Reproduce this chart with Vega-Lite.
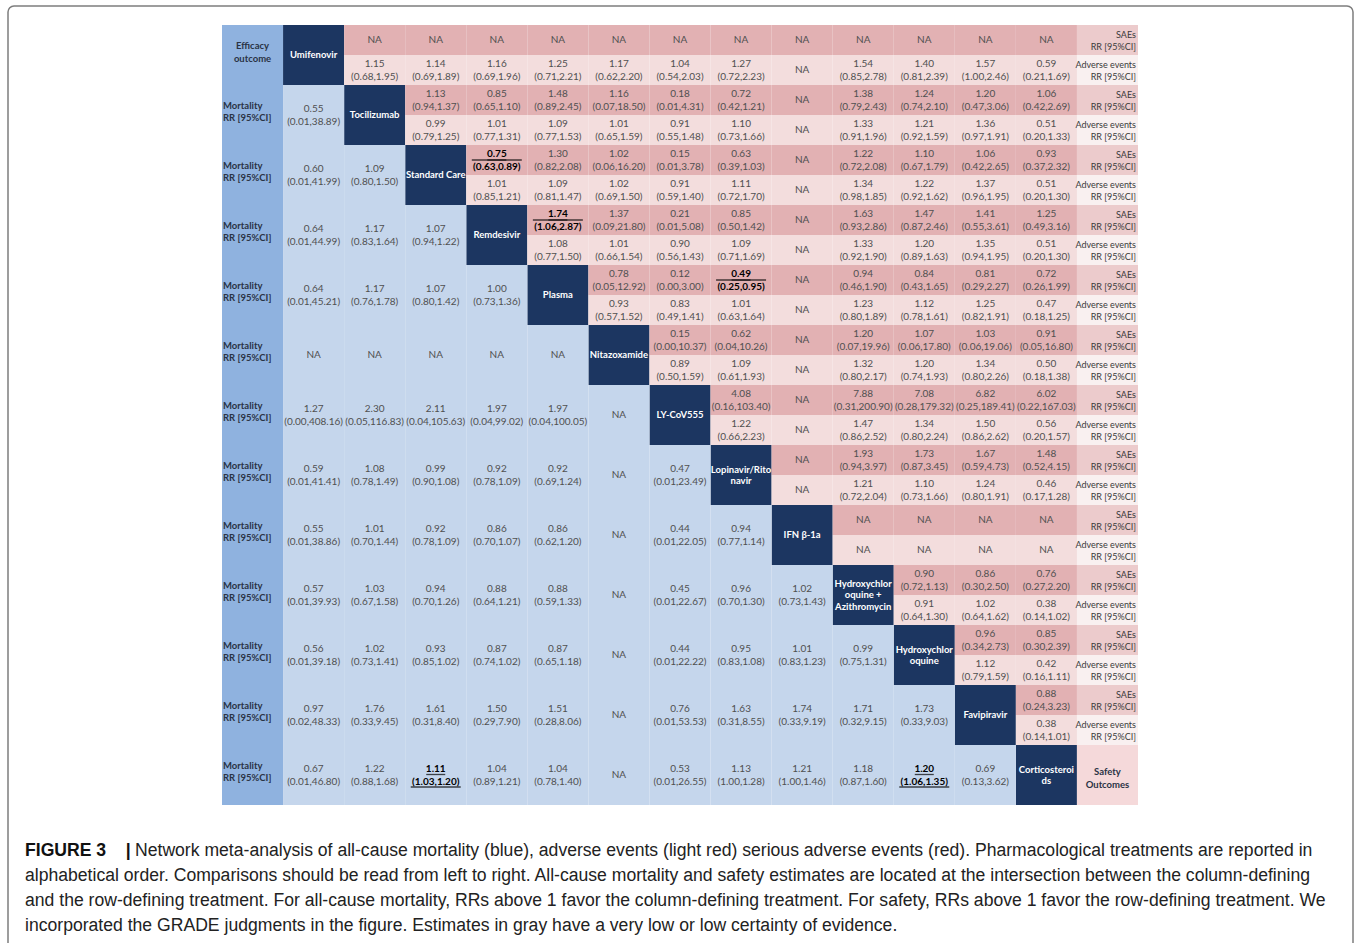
{
"$schema": "https://vega.github.io/schema/vega-lite/v6.json",
"width": 1356, "height": 943,
"autosize": {"type": "fit", "contains": "padding"},
"padding": {"left": 8, "top": 6, "right": 3, "bottom": -10},
"background": "white",
"config": {"view": {"stroke": "#7d7d7d", "strokeWidth": 1.5, "cornerRadius": 6}, "text": {"font": "Lato"}},
"datasets": {
"full": [
{"row":"UMI","col":"L","kind":"Outcome","label":"Efficacy\noutcome","head":true},
{"row":"TOC","col":"L","kind":"Outcome","label":"Mortality\nRR [95%CI]"},
{"row":"SC","col":"L","kind":"Outcome","label":"Mortality\nRR [95%CI]"},
{"row":"REM","col":"L","kind":"Outcome","label":"Mortality\nRR [95%CI]"},
{"row":"PLA","col":"L","kind":"Outcome","label":"Mortality\nRR [95%CI]"},
{"row":"NIT","col":"L","kind":"Outcome","label":"Mortality\nRR [95%CI]"},
{"row":"LY","col":"L","kind":"Outcome","label":"Mortality\nRR [95%CI]"},
{"row":"LPV","col":"L","kind":"Outcome","label":"Mortality\nRR [95%CI]"},
{"row":"IFN","col":"L","kind":"Outcome","label":"Mortality\nRR [95%CI]"},
{"row":"HCQA","col":"L","kind":"Outcome","label":"Mortality\nRR [95%CI]"},
{"row":"HCQ","col":"L","kind":"Outcome","label":"Mortality\nRR [95%CI]"},
{"row":"FAV","col":"L","kind":"Outcome","label":"Mortality\nRR [95%CI]"},
{"row":"COR","col":"L","kind":"Outcome","label":"Mortality\nRR [95%CI]"},
{"row":"UMI","col":"UMI","kind":"Diag","label":"Umifenovir"},
{"row":"TOC","col":"TOC","kind":"Diag","label":"Tocilizumab"},
{"row":"SC","col":"SC","kind":"Diag","label":"Standard Care"},
{"row":"REM","col":"REM","kind":"Diag","label":"Remdesivir"},
{"row":"PLA","col":"PLA","kind":"Diag","label":"Plasma"},
{"row":"NIT","col":"NIT","kind":"Diag","label":"Nitazoxamide"},
{"row":"LY","col":"LY","kind":"Diag","label":"LY-CoV555"},
{"row":"LPV","col":"LPV","kind":"Diag","label":"Lopinavir/Rito\nnavir"},
{"row":"IFN","col":"IFN","kind":"Diag","label":"IFN β-1a"},
{"row":"HCQA","col":"HCQA","kind":"Diag","label":"Hydroxychlor\noquine +\nAzithromycin"},
{"row":"HCQ","col":"HCQ","kind":"Diag","label":"Hydroxychlor\noquine"},
{"row":"FAV","col":"FAV","kind":"Diag","label":"Favipiravir"},
{"row":"COR","col":"COR","kind":"Diag","label":"Corticosteroi\nds"},
{"row":"COR","col":"R","kind":"Safety","label":"Safety\nOutcomes"},
{"row":"TOC","col":"UMI","kind":"Mortality","label":"0.55\n(0.01,38.89)"},
{"row":"SC","col":"UMI","kind":"Mortality","label":"0.60\n(0.01,41.99)"},
{"row":"SC","col":"TOC","kind":"Mortality","label":"1.09\n(0.80,1.50)"},
{"row":"REM","col":"UMI","kind":"Mortality","label":"0.64\n(0.01,44.99)"},
{"row":"REM","col":"TOC","kind":"Mortality","label":"1.17\n(0.83,1.64)"},
{"row":"REM","col":"SC","kind":"Mortality","label":"1.07\n(0.94,1.22)"},
{"row":"PLA","col":"UMI","kind":"Mortality","label":"0.64\n(0.01,45.21)"},
{"row":"PLA","col":"TOC","kind":"Mortality","label":"1.17\n(0.76,1.78)"},
{"row":"PLA","col":"SC","kind":"Mortality","label":"1.07\n(0.80,1.42)"},
{"row":"PLA","col":"REM","kind":"Mortality","label":"1.00\n(0.73,1.36)"},
{"row":"NIT","col":"UMI","kind":"Mortality","label":"NA"},
{"row":"NIT","col":"TOC","kind":"Mortality","label":"NA"},
{"row":"NIT","col":"SC","kind":"Mortality","label":"NA"},
{"row":"NIT","col":"REM","kind":"Mortality","label":"NA"},
{"row":"NIT","col":"PLA","kind":"Mortality","label":"NA"},
{"row":"LY","col":"UMI","kind":"Mortality","label":"1.27\n(0.00,408.16)"},
{"row":"LY","col":"TOC","kind":"Mortality","label":"2.30\n(0.05,116.83)"},
{"row":"LY","col":"SC","kind":"Mortality","label":"2.11\n(0.04,105.63)"},
{"row":"LY","col":"REM","kind":"Mortality","label":"1.97\n(0.04,99.02)"},
{"row":"LY","col":"PLA","kind":"Mortality","label":"1.97\n(0.04,100.05)"},
{"row":"LY","col":"NIT","kind":"Mortality","label":"NA"},
{"row":"LPV","col":"UMI","kind":"Mortality","label":"0.59\n(0.01,41.41)"},
{"row":"LPV","col":"TOC","kind":"Mortality","label":"1.08\n(0.78,1.49)"},
{"row":"LPV","col":"SC","kind":"Mortality","label":"0.99\n(0.90,1.08)"},
{"row":"LPV","col":"REM","kind":"Mortality","label":"0.92\n(0.78,1.09)"},
{"row":"LPV","col":"PLA","kind":"Mortality","label":"0.92\n(0.69,1.24)"},
{"row":"LPV","col":"NIT","kind":"Mortality","label":"NA"},
{"row":"LPV","col":"LY","kind":"Mortality","label":"0.47\n(0.01,23.49)"},
{"row":"IFN","col":"UMI","kind":"Mortality","label":"0.55\n(0.01,38.86)"},
{"row":"IFN","col":"TOC","kind":"Mortality","label":"1.01\n(0.70,1.44)"},
{"row":"IFN","col":"SC","kind":"Mortality","label":"0.92\n(0.78,1.09)"},
{"row":"IFN","col":"REM","kind":"Mortality","label":"0.86\n(0.70,1.07)"},
{"row":"IFN","col":"PLA","kind":"Mortality","label":"0.86\n(0.62,1.20)"},
{"row":"IFN","col":"NIT","kind":"Mortality","label":"NA"},
{"row":"IFN","col":"LY","kind":"Mortality","label":"0.44\n(0.01,22.05)"},
{"row":"IFN","col":"LPV","kind":"Mortality","label":"0.94\n(0.77,1.14)"},
{"row":"HCQA","col":"UMI","kind":"Mortality","label":"0.57\n(0.01,39.93)"},
{"row":"HCQA","col":"TOC","kind":"Mortality","label":"1.03\n(0.67,1.58)"},
{"row":"HCQA","col":"SC","kind":"Mortality","label":"0.94\n(0.70,1.26)"},
{"row":"HCQA","col":"REM","kind":"Mortality","label":"0.88\n(0.64,1.21)"},
{"row":"HCQA","col":"PLA","kind":"Mortality","label":"0.88\n(0.59,1.33)"},
{"row":"HCQA","col":"NIT","kind":"Mortality","label":"NA"},
{"row":"HCQA","col":"LY","kind":"Mortality","label":"0.45\n(0.01,22.67)"},
{"row":"HCQA","col":"LPV","kind":"Mortality","label":"0.96\n(0.70,1.30)"},
{"row":"HCQA","col":"IFN","kind":"Mortality","label":"1.02\n(0.73,1.43)"},
{"row":"HCQ","col":"UMI","kind":"Mortality","label":"0.56\n(0.01,39.18)"},
{"row":"HCQ","col":"TOC","kind":"Mortality","label":"1.02\n(0.73,1.41)"},
{"row":"HCQ","col":"SC","kind":"Mortality","label":"0.93\n(0.85,1.02)"},
{"row":"HCQ","col":"REM","kind":"Mortality","label":"0.87\n(0.74,1.02)"},
{"row":"HCQ","col":"PLA","kind":"Mortality","label":"0.87\n(0.65,1.18)"},
{"row":"HCQ","col":"NIT","kind":"Mortality","label":"NA"},
{"row":"HCQ","col":"LY","kind":"Mortality","label":"0.44\n(0.01,22.22)"},
{"row":"HCQ","col":"LPV","kind":"Mortality","label":"0.95\n(0.83,1.08)"},
{"row":"HCQ","col":"IFN","kind":"Mortality","label":"1.01\n(0.83,1.23)"},
{"row":"HCQ","col":"HCQA","kind":"Mortality","label":"0.99\n(0.75,1.31)"},
{"row":"FAV","col":"UMI","kind":"Mortality","label":"0.97\n(0.02,48.33)"},
{"row":"FAV","col":"TOC","kind":"Mortality","label":"1.76\n(0.33,9.45)"},
{"row":"FAV","col":"SC","kind":"Mortality","label":"1.61\n(0.31,8.40)"},
{"row":"FAV","col":"REM","kind":"Mortality","label":"1.50\n(0.29,7.90)"},
{"row":"FAV","col":"PLA","kind":"Mortality","label":"1.51\n(0.28,8.06)"},
{"row":"FAV","col":"NIT","kind":"Mortality","label":"NA"},
{"row":"FAV","col":"LY","kind":"Mortality","label":"0.76\n(0.01,53.53)"},
{"row":"FAV","col":"LPV","kind":"Mortality","label":"1.63\n(0.31,8.55)"},
{"row":"FAV","col":"IFN","kind":"Mortality","label":"1.74\n(0.33,9.19)"},
{"row":"FAV","col":"HCQA","kind":"Mortality","label":"1.71\n(0.32,9.15)"},
{"row":"FAV","col":"HCQ","kind":"Mortality","label":"1.73\n(0.33,9.03)"},
{"row":"COR","col":"UMI","kind":"Mortality","label":"0.67\n(0.01,46.80)"},
{"row":"COR","col":"TOC","kind":"Mortality","label":"1.22\n(0.88,1.68)"},
{"row":"COR","col":"SC","kind":"Mortality","label":"1.11\n(1.03,1.20)","sig":true},
{"row":"COR","col":"REM","kind":"Mortality","label":"1.04\n(0.89,1.21)"},
{"row":"COR","col":"PLA","kind":"Mortality","label":"1.04\n(0.78,1.40)"},
{"row":"COR","col":"NIT","kind":"Mortality","label":"NA"},
{"row":"COR","col":"LY","kind":"Mortality","label":"0.53\n(0.01,26.55)"},
{"row":"COR","col":"LPV","kind":"Mortality","label":"1.13\n(1.00,1.28)"},
{"row":"COR","col":"IFN","kind":"Mortality","label":"1.21\n(1.00,1.46)"},
{"row":"COR","col":"HCQA","kind":"Mortality","label":"1.18\n(0.87,1.60)"},
{"row":"COR","col":"HCQ","kind":"Mortality","label":"1.20\n(1.06,1.35)","sig":true},
{"row":"COR","col":"FAV","kind":"Mortality","label":"0.69\n(0.13,3.62)"}
],
"half": [
{"row":"UMI","col":"R","outcome":"SAE","kind":"SAE label","label":"SAEs\nRR [95%CI]"},
{"row":"UMI","col":"R","outcome":"AE","kind":"AE label","label":"Adverse events\nRR [95%CI]"},
{"row":"TOC","col":"R","outcome":"SAE","kind":"SAE label","label":"SAEs\nRR [95%CI]"},
{"row":"TOC","col":"R","outcome":"AE","kind":"AE label","label":"Adverse events\nRR [95%CI]"},
{"row":"SC","col":"R","outcome":"SAE","kind":"SAE label","label":"SAEs\nRR [95%CI]"},
{"row":"SC","col":"R","outcome":"AE","kind":"AE label","label":"Adverse events\nRR [95%CI]"},
{"row":"REM","col":"R","outcome":"SAE","kind":"SAE label","label":"SAEs\nRR [95%CI]"},
{"row":"REM","col":"R","outcome":"AE","kind":"AE label","label":"Adverse events\nRR [95%CI]"},
{"row":"PLA","col":"R","outcome":"SAE","kind":"SAE label","label":"SAEs\nRR [95%CI]"},
{"row":"PLA","col":"R","outcome":"AE","kind":"AE label","label":"Adverse events\nRR [95%CI]"},
{"row":"NIT","col":"R","outcome":"SAE","kind":"SAE label","label":"SAEs\nRR [95%CI]"},
{"row":"NIT","col":"R","outcome":"AE","kind":"AE label","label":"Adverse events\nRR [95%CI]"},
{"row":"LY","col":"R","outcome":"SAE","kind":"SAE label","label":"SAEs\nRR [95%CI]"},
{"row":"LY","col":"R","outcome":"AE","kind":"AE label","label":"Adverse events\nRR [95%CI]"},
{"row":"LPV","col":"R","outcome":"SAE","kind":"SAE label","label":"SAEs\nRR [95%CI]"},
{"row":"LPV","col":"R","outcome":"AE","kind":"AE label","label":"Adverse events\nRR [95%CI]"},
{"row":"IFN","col":"R","outcome":"SAE","kind":"SAE label","label":"SAEs\nRR [95%CI]"},
{"row":"IFN","col":"R","outcome":"AE","kind":"AE label","label":"Adverse events\nRR [95%CI]"},
{"row":"HCQA","col":"R","outcome":"SAE","kind":"SAE label","label":"SAEs\nRR [95%CI]"},
{"row":"HCQA","col":"R","outcome":"AE","kind":"AE label","label":"Adverse events\nRR [95%CI]"},
{"row":"HCQ","col":"R","outcome":"SAE","kind":"SAE label","label":"SAEs\nRR [95%CI]"},
{"row":"HCQ","col":"R","outcome":"AE","kind":"AE label","label":"Adverse events\nRR [95%CI]"},
{"row":"FAV","col":"R","outcome":"SAE","kind":"SAE label","label":"SAEs\nRR [95%CI]"},
{"row":"FAV","col":"R","outcome":"AE","kind":"AE label","label":"Adverse events\nRR [95%CI]"},
{"row":"UMI","col":"TOC","outcome":"SAE","kind":"SAE","label":"NA"},
{"row":"UMI","col":"SC","outcome":"SAE","kind":"SAE","label":"NA"},
{"row":"UMI","col":"REM","outcome":"SAE","kind":"SAE","label":"NA"},
{"row":"UMI","col":"PLA","outcome":"SAE","kind":"SAE","label":"NA"},
{"row":"UMI","col":"NIT","outcome":"SAE","kind":"SAE","label":"NA"},
{"row":"UMI","col":"LY","outcome":"SAE","kind":"SAE","label":"NA"},
{"row":"UMI","col":"LPV","outcome":"SAE","kind":"SAE","label":"NA"},
{"row":"UMI","col":"IFN","outcome":"SAE","kind":"SAE","label":"NA"},
{"row":"UMI","col":"HCQA","outcome":"SAE","kind":"SAE","label":"NA"},
{"row":"UMI","col":"HCQ","outcome":"SAE","kind":"SAE","label":"NA"},
{"row":"UMI","col":"FAV","outcome":"SAE","kind":"SAE","label":"NA"},
{"row":"UMI","col":"COR","outcome":"SAE","kind":"SAE","label":"NA"},
{"row":"UMI","col":"TOC","outcome":"AE","kind":"AE","label":"1.15\n(0.68,1.95)"},
{"row":"UMI","col":"SC","outcome":"AE","kind":"AE","label":"1.14\n(0.69,1.89)"},
{"row":"UMI","col":"REM","outcome":"AE","kind":"AE","label":"1.16\n(0.69,1.96)"},
{"row":"UMI","col":"PLA","outcome":"AE","kind":"AE","label":"1.25\n(0.71,2.21)"},
{"row":"UMI","col":"NIT","outcome":"AE","kind":"AE","label":"1.17\n(0.62,2.20)"},
{"row":"UMI","col":"LY","outcome":"AE","kind":"AE","label":"1.04\n(0.54,2.03)"},
{"row":"UMI","col":"LPV","outcome":"AE","kind":"AE","label":"1.27\n(0.72,2.23)"},
{"row":"UMI","col":"IFN","outcome":"AE","kind":"AE","label":"NA"},
{"row":"UMI","col":"HCQA","outcome":"AE","kind":"AE","label":"1.54\n(0.85,2.78)"},
{"row":"UMI","col":"HCQ","outcome":"AE","kind":"AE","label":"1.40\n(0.81,2.39)"},
{"row":"UMI","col":"FAV","outcome":"AE","kind":"AE","label":"1.57\n(1.00,2.46)"},
{"row":"UMI","col":"COR","outcome":"AE","kind":"AE","label":"0.59\n(0.21,1.69)"},
{"row":"TOC","col":"SC","outcome":"SAE","kind":"SAE","label":"1.13\n(0.94,1.37)"},
{"row":"TOC","col":"REM","outcome":"SAE","kind":"SAE","label":"0.85\n(0.65,1.10)"},
{"row":"TOC","col":"PLA","outcome":"SAE","kind":"SAE","label":"1.48\n(0.89,2.45)"},
{"row":"TOC","col":"NIT","outcome":"SAE","kind":"SAE","label":"1.16\n(0.07,18.50)"},
{"row":"TOC","col":"LY","outcome":"SAE","kind":"SAE","label":"0.18\n(0.01,4.31)"},
{"row":"TOC","col":"LPV","outcome":"SAE","kind":"SAE","label":"0.72\n(0.42,1.21)"},
{"row":"TOC","col":"IFN","outcome":"SAE","kind":"SAE","label":"NA"},
{"row":"TOC","col":"HCQA","outcome":"SAE","kind":"SAE","label":"1.38\n(0.79,2.43)"},
{"row":"TOC","col":"HCQ","outcome":"SAE","kind":"SAE","label":"1.24\n(0.74,2.10)"},
{"row":"TOC","col":"FAV","outcome":"SAE","kind":"SAE","label":"1.20\n(0.47,3.06)"},
{"row":"TOC","col":"COR","outcome":"SAE","kind":"SAE","label":"1.06\n(0.42,2.69)"},
{"row":"TOC","col":"SC","outcome":"AE","kind":"AE","label":"0.99\n(0.79,1.25)"},
{"row":"TOC","col":"REM","outcome":"AE","kind":"AE","label":"1.01\n(0.77,1.31)"},
{"row":"TOC","col":"PLA","outcome":"AE","kind":"AE","label":"1.09\n(0.77,1.53)"},
{"row":"TOC","col":"NIT","outcome":"AE","kind":"AE","label":"1.01\n(0.65,1.59)"},
{"row":"TOC","col":"LY","outcome":"AE","kind":"AE","label":"0.91\n(0.55,1.48)"},
{"row":"TOC","col":"LPV","outcome":"AE","kind":"AE","label":"1.10\n(0.73,1.66)"},
{"row":"TOC","col":"IFN","outcome":"AE","kind":"AE","label":"NA"},
{"row":"TOC","col":"HCQA","outcome":"AE","kind":"AE","label":"1.33\n(0.91,1.96)"},
{"row":"TOC","col":"HCQ","outcome":"AE","kind":"AE","label":"1.21\n(0.92,1.59)"},
{"row":"TOC","col":"FAV","outcome":"AE","kind":"AE","label":"1.36\n(0.97,1.91)"},
{"row":"TOC","col":"COR","outcome":"AE","kind":"AE","label":"0.51\n(0.20,1.33)"},
{"row":"SC","col":"REM","outcome":"SAE","kind":"SAE","label":"0.75\n(0.63,0.89)","sig":true},
{"row":"SC","col":"PLA","outcome":"SAE","kind":"SAE","label":"1.30\n(0.82,2.08)"},
{"row":"SC","col":"NIT","outcome":"SAE","kind":"SAE","label":"1.02\n(0.06,16.20)"},
{"row":"SC","col":"LY","outcome":"SAE","kind":"SAE","label":"0.15\n(0.01,3.78)"},
{"row":"SC","col":"LPV","outcome":"SAE","kind":"SAE","label":"0.63\n(0.39,1.03)"},
{"row":"SC","col":"IFN","outcome":"SAE","kind":"SAE","label":"NA"},
{"row":"SC","col":"HCQA","outcome":"SAE","kind":"SAE","label":"1.22\n(0.72,2.08)"},
{"row":"SC","col":"HCQ","outcome":"SAE","kind":"SAE","label":"1.10\n(0.67,1.79)"},
{"row":"SC","col":"FAV","outcome":"SAE","kind":"SAE","label":"1.06\n(0.42,2.65)"},
{"row":"SC","col":"COR","outcome":"SAE","kind":"SAE","label":"0.93\n(0.37,2.32)"},
{"row":"SC","col":"REM","outcome":"AE","kind":"AE","label":"1.01\n(0.85,1.21)"},
{"row":"SC","col":"PLA","outcome":"AE","kind":"AE","label":"1.09\n(0.81,1.47)"},
{"row":"SC","col":"NIT","outcome":"AE","kind":"AE","label":"1.02\n(0.69,1.50)"},
{"row":"SC","col":"LY","outcome":"AE","kind":"AE","label":"0.91\n(0.59,1.40)"},
{"row":"SC","col":"LPV","outcome":"AE","kind":"AE","label":"1.11\n(0.72,1.70)"},
{"row":"SC","col":"IFN","outcome":"AE","kind":"AE","label":"NA"},
{"row":"SC","col":"HCQA","outcome":"AE","kind":"AE","label":"1.34\n(0.98,1.85)"},
{"row":"SC","col":"HCQ","outcome":"AE","kind":"AE","label":"1.22\n(0.92,1.62)"},
{"row":"SC","col":"FAV","outcome":"AE","kind":"AE","label":"1.37\n(0.96,1.95)"},
{"row":"SC","col":"COR","outcome":"AE","kind":"AE","label":"0.51\n(0.20,1.30)"},
{"row":"REM","col":"PLA","outcome":"SAE","kind":"SAE","label":"1.74\n(1.06,2.87)","sig":true},
{"row":"REM","col":"NIT","outcome":"SAE","kind":"SAE","label":"1.37\n(0.09,21.80)"},
{"row":"REM","col":"LY","outcome":"SAE","kind":"SAE","label":"0.21\n(0.01,5.08)"},
{"row":"REM","col":"LPV","outcome":"SAE","kind":"SAE","label":"0.85\n(0.50,1.42)"},
{"row":"REM","col":"IFN","outcome":"SAE","kind":"SAE","label":"NA"},
{"row":"REM","col":"HCQA","outcome":"SAE","kind":"SAE","label":"1.63\n(0.93,2.86)"},
{"row":"REM","col":"HCQ","outcome":"SAE","kind":"SAE","label":"1.47\n(0.87,2.46)"},
{"row":"REM","col":"FAV","outcome":"SAE","kind":"SAE","label":"1.41\n(0.55,3.61)"},
{"row":"REM","col":"COR","outcome":"SAE","kind":"SAE","label":"1.25\n(0.49,3.16)"},
{"row":"REM","col":"PLA","outcome":"AE","kind":"AE","label":"1.08\n(0.77,1.50)"},
{"row":"REM","col":"NIT","outcome":"AE","kind":"AE","label":"1.01\n(0.66,1.54)"},
{"row":"REM","col":"LY","outcome":"AE","kind":"AE","label":"0.90\n(0.56,1.43)"},
{"row":"REM","col":"LPV","outcome":"AE","kind":"AE","label":"1.09\n(0.71,1.69)"},
{"row":"REM","col":"IFN","outcome":"AE","kind":"AE","label":"NA"},
{"row":"REM","col":"HCQA","outcome":"AE","kind":"AE","label":"1.33\n(0.92,1.90)"},
{"row":"REM","col":"HCQ","outcome":"AE","kind":"AE","label":"1.20\n(0.89,1.63)"},
{"row":"REM","col":"FAV","outcome":"AE","kind":"AE","label":"1.35\n(0.94,1.95)"},
{"row":"REM","col":"COR","outcome":"AE","kind":"AE","label":"0.51\n(0.20,1.30)"},
{"row":"PLA","col":"NIT","outcome":"SAE","kind":"SAE","label":"0.78\n(0.05,12.92)"},
{"row":"PLA","col":"LY","outcome":"SAE","kind":"SAE","label":"0.12\n(0.00,3.00)"},
{"row":"PLA","col":"LPV","outcome":"SAE","kind":"SAE","label":"0.49\n(0.25,0.95)","sig":true},
{"row":"PLA","col":"IFN","outcome":"SAE","kind":"SAE","label":"NA"},
{"row":"PLA","col":"HCQA","outcome":"SAE","kind":"SAE","label":"0.94\n(0.46,1.90)"},
{"row":"PLA","col":"HCQ","outcome":"SAE","kind":"SAE","label":"0.84\n(0.43,1.65)"},
{"row":"PLA","col":"FAV","outcome":"SAE","kind":"SAE","label":"0.81\n(0.29,2.27)"},
{"row":"PLA","col":"COR","outcome":"SAE","kind":"SAE","label":"0.72\n(0.26,1.99)"},
{"row":"PLA","col":"NIT","outcome":"AE","kind":"AE","label":"0.93\n(0.57,1.52)"},
{"row":"PLA","col":"LY","outcome":"AE","kind":"AE","label":"0.83\n(0.49,1.41)"},
{"row":"PLA","col":"LPV","outcome":"AE","kind":"AE","label":"1.01\n(0.63,1.64)"},
{"row":"PLA","col":"IFN","outcome":"AE","kind":"AE","label":"NA"},
{"row":"PLA","col":"HCQA","outcome":"AE","kind":"AE","label":"1.23\n(0.80,1.89)"},
{"row":"PLA","col":"HCQ","outcome":"AE","kind":"AE","label":"1.12\n(0.78,1.61)"},
{"row":"PLA","col":"FAV","outcome":"AE","kind":"AE","label":"1.25\n(0.82,1.91)"},
{"row":"PLA","col":"COR","outcome":"AE","kind":"AE","label":"0.47\n(0.18,1.25)"},
{"row":"NIT","col":"LY","outcome":"SAE","kind":"SAE","label":"0.15\n(0.00,10.37)"},
{"row":"NIT","col":"LPV","outcome":"SAE","kind":"SAE","label":"0.62\n(0.04,10.26)"},
{"row":"NIT","col":"IFN","outcome":"SAE","kind":"SAE","label":"NA"},
{"row":"NIT","col":"HCQA","outcome":"SAE","kind":"SAE","label":"1.20\n(0.07,19.96)"},
{"row":"NIT","col":"HCQ","outcome":"SAE","kind":"SAE","label":"1.07\n(0.06,17.80)"},
{"row":"NIT","col":"FAV","outcome":"SAE","kind":"SAE","label":"1.03\n(0.06,19.06)"},
{"row":"NIT","col":"COR","outcome":"SAE","kind":"SAE","label":"0.91\n(0.05,16.80)"},
{"row":"NIT","col":"LY","outcome":"AE","kind":"AE","label":"0.89\n(0.50,1.59)"},
{"row":"NIT","col":"LPV","outcome":"AE","kind":"AE","label":"1.09\n(0.61,1.93)"},
{"row":"NIT","col":"IFN","outcome":"AE","kind":"AE","label":"NA"},
{"row":"NIT","col":"HCQA","outcome":"AE","kind":"AE","label":"1.32\n(0.80,2.17)"},
{"row":"NIT","col":"HCQ","outcome":"AE","kind":"AE","label":"1.20\n(0.74,1.93)"},
{"row":"NIT","col":"FAV","outcome":"AE","kind":"AE","label":"1.34\n(0.80,2.26)"},
{"row":"NIT","col":"COR","outcome":"AE","kind":"AE","label":"0.50\n(0.18,1.38)"},
{"row":"LY","col":"LPV","outcome":"SAE","kind":"SAE","label":"4.08\n(0.16,103.40)"},
{"row":"LY","col":"IFN","outcome":"SAE","kind":"SAE","label":"NA"},
{"row":"LY","col":"HCQA","outcome":"SAE","kind":"SAE","label":"7.88\n(0.31,200.90)"},
{"row":"LY","col":"HCQ","outcome":"SAE","kind":"SAE","label":"7.08\n(0.28,179.32)"},
{"row":"LY","col":"FAV","outcome":"SAE","kind":"SAE","label":"6.82\n(0.25,189.41)"},
{"row":"LY","col":"COR","outcome":"SAE","kind":"SAE","label":"6.02\n(0.22,167.03)"},
{"row":"LY","col":"LPV","outcome":"AE","kind":"AE","label":"1.22\n(0.66,2.23)"},
{"row":"LY","col":"IFN","outcome":"AE","kind":"AE","label":"NA"},
{"row":"LY","col":"HCQA","outcome":"AE","kind":"AE","label":"1.47\n(0.86,2.52)"},
{"row":"LY","col":"HCQ","outcome":"AE","kind":"AE","label":"1.34\n(0.80,2.24)"},
{"row":"LY","col":"FAV","outcome":"AE","kind":"AE","label":"1.50\n(0.86,2.62)"},
{"row":"LY","col":"COR","outcome":"AE","kind":"AE","label":"0.56\n(0.20,1.57)"},
{"row":"LPV","col":"IFN","outcome":"SAE","kind":"SAE","label":"NA"},
{"row":"LPV","col":"HCQA","outcome":"SAE","kind":"SAE","label":"1.93\n(0.94,3.97)"},
{"row":"LPV","col":"HCQ","outcome":"SAE","kind":"SAE","label":"1.73\n(0.87,3.45)"},
{"row":"LPV","col":"FAV","outcome":"SAE","kind":"SAE","label":"1.67\n(0.59,4.73)"},
{"row":"LPV","col":"COR","outcome":"SAE","kind":"SAE","label":"1.48\n(0.52,4.15)"},
{"row":"LPV","col":"IFN","outcome":"AE","kind":"AE","label":"NA"},
{"row":"LPV","col":"HCQA","outcome":"AE","kind":"AE","label":"1.21\n(0.72,2.04)"},
{"row":"LPV","col":"HCQ","outcome":"AE","kind":"AE","label":"1.10\n(0.73,1.66)"},
{"row":"LPV","col":"FAV","outcome":"AE","kind":"AE","label":"1.24\n(0.80,1.91)"},
{"row":"LPV","col":"COR","outcome":"AE","kind":"AE","label":"0.46\n(0.17,1.28)"},
{"row":"IFN","col":"HCQA","outcome":"SAE","kind":"SAE","label":"NA"},
{"row":"IFN","col":"HCQ","outcome":"SAE","kind":"SAE","label":"NA"},
{"row":"IFN","col":"FAV","outcome":"SAE","kind":"SAE","label":"NA"},
{"row":"IFN","col":"COR","outcome":"SAE","kind":"SAE","label":"NA"},
{"row":"IFN","col":"HCQA","outcome":"AE","kind":"AE","label":"NA"},
{"row":"IFN","col":"HCQ","outcome":"AE","kind":"AE","label":"NA"},
{"row":"IFN","col":"FAV","outcome":"AE","kind":"AE","label":"NA"},
{"row":"IFN","col":"COR","outcome":"AE","kind":"AE","label":"NA"},
{"row":"HCQA","col":"HCQ","outcome":"SAE","kind":"SAE","label":"0.90\n(0.72,1.13)"},
{"row":"HCQA","col":"FAV","outcome":"SAE","kind":"SAE","label":"0.86\n(0.30,2.50)"},
{"row":"HCQA","col":"COR","outcome":"SAE","kind":"SAE","label":"0.76\n(0.27,2.20)"},
{"row":"HCQA","col":"HCQ","outcome":"AE","kind":"AE","label":"0.91\n(0.64,1.30)"},
{"row":"HCQA","col":"FAV","outcome":"AE","kind":"AE","label":"1.02\n(0.64,1.62)"},
{"row":"HCQA","col":"COR","outcome":"AE","kind":"AE","label":"0.38\n(0.14,1.02)"},
{"row":"HCQ","col":"FAV","outcome":"SAE","kind":"SAE","label":"0.96\n(0.34,2.73)"},
{"row":"HCQ","col":"COR","outcome":"SAE","kind":"SAE","label":"0.85\n(0.30,2.39)"},
{"row":"HCQ","col":"FAV","outcome":"AE","kind":"AE","label":"1.12\n(0.79,1.59)"},
{"row":"HCQ","col":"COR","outcome":"AE","kind":"AE","label":"0.42\n(0.16,1.11)"},
{"row":"FAV","col":"COR","outcome":"SAE","kind":"SAE","label":"0.88\n(0.24,3.23)"},
{"row":"FAV","col":"COR","outcome":"AE","kind":"AE","label":"0.38\n(0.14,1.01)"}
],
"caption": [
{"line":1,"seg":"a","bold":true,"text":"FIGURE 3\u00a0\u00a0\u00a0\u00a0|"},
{"line":1,"seg":"b","text":"Network meta-analysis of all-cause mortality (blue), adverse events (light red) serious adverse events (red). Pharmacological treatments are reported in"},
{"line":2,"seg":"a","text":"alphabetical order. Comparisons should be read from left to right. All-cause mortality and safety estimates are located at the intersection between the column-defining"},
{"line":3,"seg":"a","text":"and the row-defining treatment. For all-cause mortality, RRs above 1 favor the column-defining treatment. For safety, RRs above 1 favor the row-defining treatment. We"},
{"line":4,"seg":"a","text":"incorporated the GRADE judgments in the figure. Estimates in gray have a very low or low certainty of evidence."}
]
},
"layer": [
{
"encoding": {
"x": {"field": "col", "type": "nominal", "axis": null, "scale": {"type": "band", "domain": ["L","UMI","TOC","SC","REM","PLA","NIT","LY","LPV","IFN","HCQA","HCQ","FAV","COR","R"], "range": [214, 1130], "paddingInner": 0, "paddingOuter": 0}},
"y": {"field": "row", "type": "nominal", "axis": null, "scale": {"type": "band", "domain": ["UMI","TOC","SC","REM","PLA","NIT","LY","LPV","IFN","HCQA","HCQ","FAV","COR"], "range": [19, 799], "paddingInner": 0, "paddingOuter": 0}}
},
"layer": [
{"data": {"name": "full"}, "mark": {"type": "rect"},
 "encoding": {"color": {"field": "kind", "type": "nominal", "legend": null, "scale": {"domain": ["Outcome","Diag","Mortality","Safety","SAE","AE","SAE label","AE label"], "range": ["#8fb2df","#1c3661","#c5d6ec","#f5d9da","#e2b1b3","#f3dddd","#eccbcc","#f9f0f0"]}}}},
{"data": {"name": "half"}, "mark": {"type": "rect"},
 "encoding": {"yOffset": {"field": "outcome", "type": "nominal", "scale": {"domain": ["SAE","AE"], "paddingInner": 0, "paddingOuter": 0}},
  "color": {"field": "kind", "type": "nominal", "legend": null}}},
{"data": {"name": "full"}, "transform": [{"filter": "datum.kind == 'Mortality' && !datum.sig && datum.label != 'NA'"}],
 "mark": {"type": "text", "fontSize": 10, "color": "#505050", "lineBreak": "\n", "lineHeight": 12.5, "baseline": "middle", "dy": -6},
 "encoding": {"text": {"field": "label"}}},
{"data": {"name": "full"}, "transform": [{"filter": "datum.kind == 'Mortality' && datum.label == 'NA'"}],
 "mark": {"type": "text", "fontSize": 10, "color": "#505050", "baseline": "middle"},
 "encoding": {"text": {"field": "label"}}},
{"data": {"name": "full"}, "transform": [{"filter": "datum.kind == 'Mortality' && datum.sig"}],
 "mark": {"type": "text", "fontSize": 10, "fontWeight": "bold", "color": "#000000", "lineBreak": "\n", "lineHeight": 12.5, "baseline": "middle", "dy": -6},
 "encoding": {"text": {"field": "label"}}},
{"data": {"name": "full"}, "transform": [{"filter": "datum.sig"}],
 "mark": {"type": "tick", "orient": "horizontal", "size": 19, "thickness": 1.3, "color": "#000000", "yOffset": -0.5},
 "encoding": {}},
{"data": {"name": "full"}, "transform": [{"filter": "datum.sig"}],
 "mark": {"type": "tick", "orient": "horizontal", "size": 50, "thickness": 1.5, "color": "#000000", "yOffset": 12},
 "encoding": {}},
{"data": {"name": "half"}, "transform": [{"filter": "datum.sig"}],
 "mark": {"type": "tick", "orient": "horizontal", "size": 19, "thickness": 1.3, "color": "#000000", "yOffset": -0.5},
 "encoding": {"yOffset": {"field": "outcome", "type": "nominal"}}},
{"data": {"name": "half"}, "transform": [{"filter": "datum.sig"}],
 "mark": {"type": "tick", "orient": "horizontal", "size": 50, "thickness": 1.5, "color": "#000000", "yOffset": 12},
 "encoding": {"yOffset": {"field": "outcome", "type": "nominal"}}},
{"data": {"name": "full"}, "transform": [{"filter": "datum.kind == 'Diag' && length(split(datum.label, '\\n')) == 1"}],
 "mark": {"type": "text", "fontSize": 9.5, "fontWeight": "bold", "color": "#ffffff", "baseline": "middle"},
 "encoding": {"text": {"field": "label"}}},
{"data": {"name": "full"}, "transform": [{"filter": "datum.kind == 'Diag' && length(split(datum.label, '\\n')) == 2"}],
 "mark": {"type": "text", "fontSize": 9.5, "fontWeight": "bold", "color": "#ffffff", "lineBreak": "\n", "lineHeight": 11.5, "baseline": "middle", "dy": -5.5},
 "encoding": {"text": {"field": "label"}}},
{"data": {"name": "full"}, "transform": [{"filter": "datum.kind == 'Diag' && length(split(datum.label, '\\n')) == 3"}],
 "mark": {"type": "text", "fontSize": 9.5, "fontWeight": "bold", "color": "#ffffff", "lineBreak": "\n", "lineHeight": 11.5, "baseline": "middle", "dy": -11.5},
 "encoding": {"text": {"field": "label"}}},
{"data": {"name": "full"}, "transform": [{"filter": "datum.kind == 'Outcome' && !datum.head"}],
 "mark": {"type": "text", "fontSize": 9.5, "fontWeight": "bold", "color": "#2a3345", "lineBreak": "\n", "lineHeight": 11.5, "baseline": "middle", "align": "left", "dx": 1, "dy": -9},
 "encoding": {"x": {"field": "col", "type": "nominal", "bandPosition": 0}, "text": {"field": "label"}}},
{"data": {"name": "full"}, "transform": [{"filter": "datum.head"}],
 "mark": {"type": "text", "fontSize": 9.5, "fontWeight": "bold", "color": "#2a3345", "lineBreak": "\n", "lineHeight": 13, "baseline": "middle", "dy": -9},
 "encoding": {"text": {"field": "label"}}},
{"data": {"name": "full"}, "transform": [{"filter": "datum.kind == 'Safety'"}],
 "mark": {"type": "text", "fontSize": 9.5, "fontWeight": "bold", "color": "#2a3345", "lineBreak": "\n", "lineHeight": 13, "baseline": "middle", "dy": -3},
 "encoding": {"text": {"field": "label"}}},
{"data": {"name": "half"}, "transform": [{"filter": "(datum.kind == 'SAE' || datum.kind == 'AE') && !datum.sig && datum.label != 'NA'"}],
 "mark": {"type": "text", "fontSize": 10, "color": "#505050", "lineBreak": "\n", "lineHeight": 12.5, "baseline": "middle", "dy": -6},
 "encoding": {"yOffset": {"field": "outcome", "type": "nominal"}, "text": {"field": "label"}}},
{"data": {"name": "half"}, "transform": [{"filter": "datum.label == 'NA'"}],
 "mark": {"type": "text", "fontSize": 10, "color": "#505050", "baseline": "middle"},
 "encoding": {"yOffset": {"field": "outcome", "type": "nominal"}, "text": {"field": "label"}}},
{"data": {"name": "half"}, "transform": [{"filter": "datum.sig"}],
 "mark": {"type": "text", "fontSize": 10, "fontWeight": "bold", "color": "#000000", "lineBreak": "\n", "lineHeight": 12.5, "baseline": "middle", "dy": -6},
 "encoding": {"yOffset": {"field": "outcome", "type": "nominal"}, "text": {"field": "label"}}},
{"data": {"name": "half"}, "transform": [{"filter": "datum.col == 'R'"}],
 "mark": {"type": "text", "fontSize": 9, "color": "#3a3a3a", "lineBreak": "\n", "lineHeight": 11.5, "baseline": "middle", "align": "right", "dx": -2, "dy": -5},
 "encoding": {"x": {"field": "col", "type": "nominal", "bandPosition": 1}, "yOffset": {"field": "outcome", "type": "nominal"}, "text": {"field": "label"}}}
]
},
{
"data": {"name": "caption"},
"encoding": {
"x": {"field": "seg", "type": "nominal", "axis": null, "scale": {"type": "point", "domain": ["a","b"], "range": [17, 127], "padding": 0}},
"y": {"field": "line", "type": "ordinal", "axis": null, "scale": {"type": "point", "domain": [1,2,3,4], "range": [845, 920], "padding": 0}},
"text": {"field": "text"}
},
"layer": [
{"transform": [{"filter": "datum.bold"}], "mark": {"type": "text", "font": "Liberation Sans", "fontSize": 17.6, "fontWeight": "bold", "color": "#111111", "align": "left", "baseline": "middle"}},
{"transform": [{"filter": "!datum.bold"}], "mark": {"type": "text", "font": "Liberation Sans", "fontSize": 17.6, "color": "#222222", "align": "left", "baseline": "middle"}}
]
}
],
"resolve": {"scale": {"x": "independent", "y": "independent", "color": "independent"}}
}
